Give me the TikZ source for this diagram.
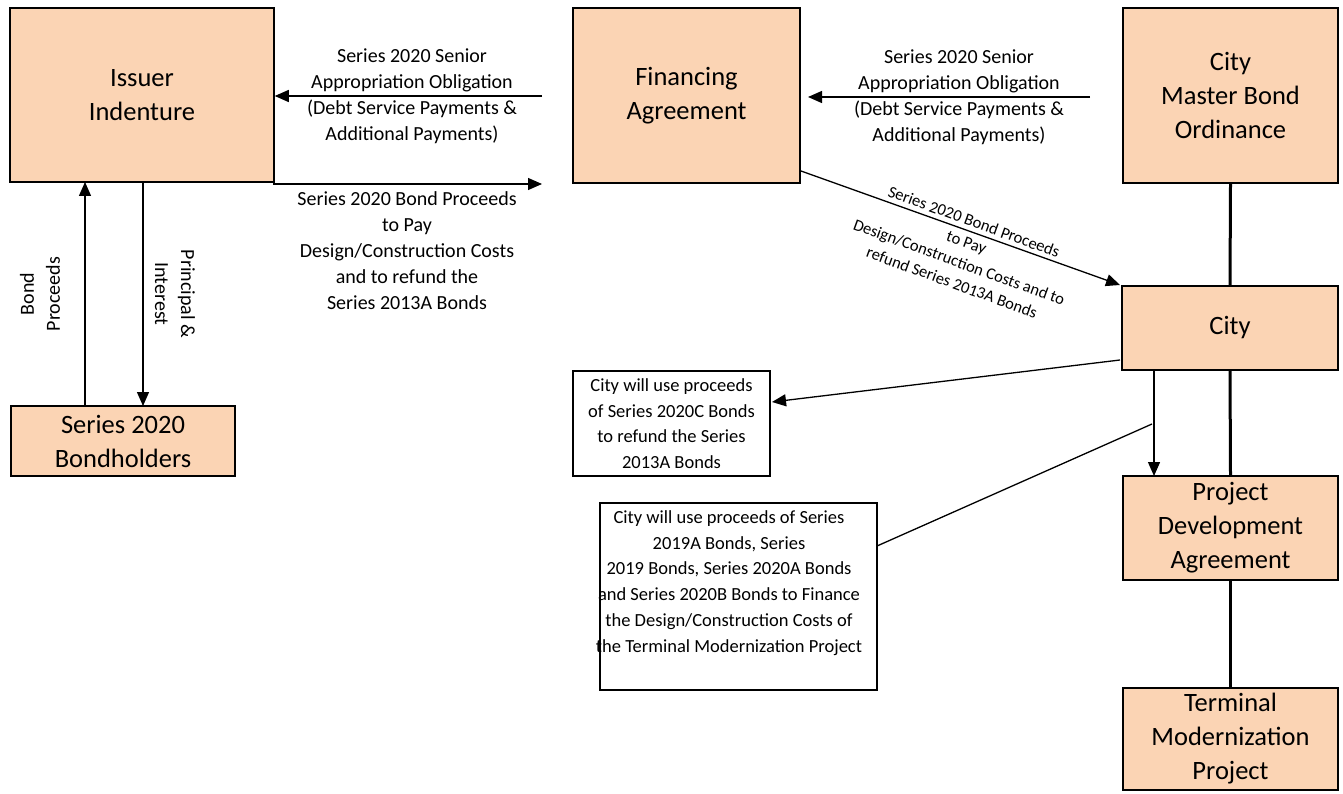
\documentclass[tikz,border=0pt]{standalone}
\usepackage{fontspec}
\setmainfont{Carlito}
\usetikzlibrary{arrows.meta}
\definecolor{peach}{HTML}{FBD4B4}
\begin{document}
\begin{tikzpicture}[x=1pt,y=-1pt,
  box/.style={draw, line width=1.5pt, fill=peach, align=center, inner sep=0pt,
    font=\fontsize{26.5}{34}\selectfont},
  plain/.style={draw, line width=1.5pt, fill=white, inner sep=0pt},
  lbl/.style={align=center, inner sep=0pt, font=\fontsize{20}{26}\selectfont},
  btxt/.style={align=center, inner sep=0pt, font=\fontsize{18.5}{25.7}\selectfont},
  dlbl/.style={align=center, inner sep=0pt, font=\fontsize{16.5}{21.5}\selectfont},
  arr/.style={line width=1.3pt, -{Triangle[length=14pt,width=12pt]}},
  thin/.style={line width=1.3pt},
  thick3/.style={line width=3pt}]
\useasboundingbox (0,0) rectangle (1343,794);
% boxes
\node[box, minimum width=264pt, minimum height=174pt] (iss) at (142,95) {Issuer\\Indenture};
\node[box, minimum width=227pt, minimum height=175pt] (fin) at (686.5,95.5) {Financing\\Agreement};
\node[box, minimum width=215pt, minimum height=175pt] (ord) at (1230.5,95.5) {City\\Master Bond\\Ordinance};
\node[box, minimum width=216pt, minimum height=84pt] (city) at (1230,328) {City};
\node[box, minimum width=224pt, minimum height=70pt] (bh) at (123,441) {Series 2020\\Bondholders};
\node[box, minimum width=215pt, minimum height=104pt] (pda) at (1230.5,528) {Project\\Development\\Agreement};
\node[box, minimum width=215pt, minimum height=102pt] (tmp) at (1230.5,739) {Terminal\\Modernization\\Project};
\node[plain, minimum width=197pt, minimum height=105pt] (b1) at (671.5,423.5) {};
\node[btxt] (b1t) at (671.5,423.5) {City will use proceeds\\of Series 2020C Bonds\\to refund the Series\\2013A Bonds};
\node[plain, minimum width=277pt, minimum height=187pt] (b2) at (738.5,596.5) {};
\node[btxt] (b2t) at (729,583) {City will use proceeds of Series\\2019A Bonds, Series\\2019 Bonds, Series 2020A Bonds\\and Series 2020B Bonds to Finance\\the Design/Construction Costs of\\the Terminal Modernization Project};
% coordinates
\coordinate (a1s) at (542,96);
\coordinate (a2s) at (273,184);
\coordinate (a2e) at (542,184);
\coordinate (a3s) at (1090,97);
\coordinate (a3e) at (808,97);
\coordinate (dgs) at (801,171);
\coordinate (dge) at (1120,285);
\coordinate (c1s) at (1120,360);
\coordinate (c1e) at (772,402);
\coordinate (c2s) at (1154,370);
\coordinate (c2e) at (1154,476);
\coordinate (c3s) at (1152,424);
\coordinate (c3e) at (877,546);
\coordinate (bp1) at (85,406);
\coordinate (bp2) at (85,182);
\coordinate (pi1) at (143,182);
\coordinate (pi2) at (143,406);
% connectors
\draw[arr] (a1s) -- (a1s -| iss.east);
\draw[arr] (a2s) -- (a2e);
\draw[arr] (a3s) -- (a3e);
\draw[arr] (dgs) -- (dge);
\draw[arr] (c1s) -- (c1e);
\draw[arr] (c2s) -- (c2e);
\draw[thin] (c3s) -- (c3e);
\draw[arr] (bp1) -- (bp2);
\draw[arr] (pi1) -- (pi2);
\draw[thick3] (ord.south) -- (city.north);
\draw[thick3] (city.south) -- (pda.north);
\draw[thick3] (pda.south) -- (tmp.north);
% labels
\node[lbl] (l1) at (412,96) {Series 2020 Senior\\Appropriation Obligation\\(Debt Service Payments \&\\Additional Payments)};
\node[lbl] (l2) at (407,251) {Series 2020 Bond Proceeds\\to Pay\\Design/Construction Costs\\and to refund the\\Series 2013A Bonds};
\node[lbl] (l3) at (959,97) {Series 2020 Senior\\Appropriation Obligation\\(Debt Service Payments \&\\Additional Payments)};
\node[dlbl, rotate=-20] (l4) at (963,252) {Series 2020 Bond Proceeds\\to Pay\\Design/Construction Costs and to\\refund Series 2013A Bonds};
\node[lbl, rotate=90] (l5) at (40,294) {Bond\\Proceeds};
\node[lbl, rotate=-90] (l6) at (175,294) {Principal \&\\Interest};
\end{tikzpicture}
\end{document}
